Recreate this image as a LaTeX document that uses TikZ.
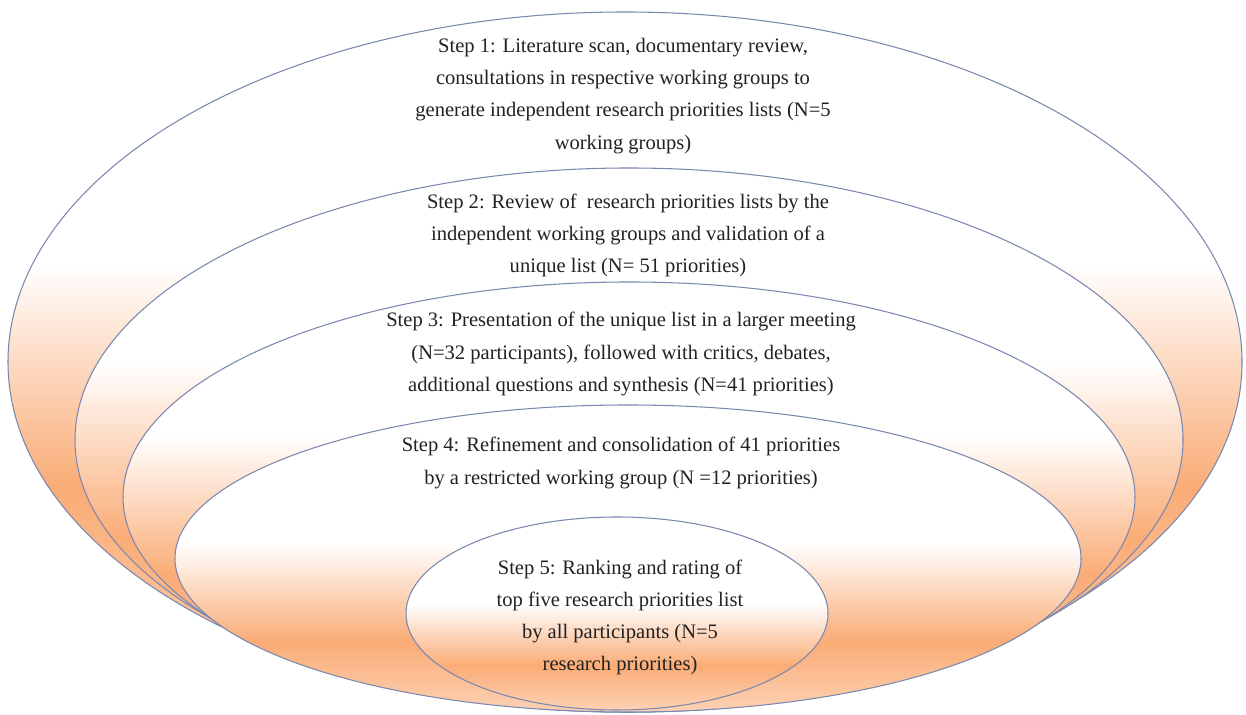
\documentclass[tikz,border=0pt]{standalone}
\usepackage{fontspec}
\setmainfont{Liberation Serif}
\usepackage{tikz}

\definecolor{stepor}{RGB}{250,172,118}
\definecolor{stepline}{RGB}{122,136,176}
\definecolor{steptxt}{RGB}{34,34,34}

% Fills: white on top, orange low down, a paler rim at the bottom.
\pgfdeclareverticalshading{ringbig}{100bp}{color(0bp)=(stepor!55!white); color(25bp)=(stepor!55!white); color(41bp)=(stepor); color(57bp)=(white); color(75bp)=(white); color(100bp)=(white)}
\pgfdeclareverticalshading{ringsmall}{100bp}{color(0bp)=(stepor!55!white); color(25bp)=(stepor!55!white); color(36.5bp)=(stepor); color(52.5bp)=(white); color(75bp)=(white); color(100bp)=(white)}

\tikzset{
	stepring/.style={shade, shading=#1, draw=stepline, line width=0.6pt},
	steptext/.style={align=center, text=steptxt, inner sep=0pt, font=\fontsize{11.7}{18.3}\selectfont}
}

\begin{document}
\begin{tikzpicture}[x=0.02cm, y=0.02cm]
		\useasboundingbox (0,0) rectangle (1246,715);

		% Outer rings, largest first.
		\path[stepring=ringbig] (625,353) ellipse [x radius=617, y radius=350];
		\path[stepring=ringbig] (629,275) ellipse [x radius=554, y radius=272];
		\path[stepring=ringbig] (629,218) ellipse [x radius=506, y radius=215];
		\path[stepring=ringsmall] (628,156.5) ellipse [x radius=453, y radius=153.5];

		% Inner ring.
		\path[stepring=ringsmall] (617,101.5) ellipse [x radius=211, y radius=96.5];

		% Step texts.
		\node[steptext] (stepone) at (623,619)
			{Step 1: Literature scan, documentary review,\\
			consultations in respective working groups to\\
			generate independent research priorities lists (N=5\\
			working groups)};
		\node[steptext] (steptwo) at (628,479.5)
			{Step 2: Review of~ research priorities lists by the\\
			independent working groups and validation of a\\
			unique list (N= 51 priorities)};
		\node[steptext] (stepthree) at (621,361)
			{Step 3: Presentation of the unique list in a larger meeting\\
			(N=32 participants), followed with critics, debates,\\
			additional questions and synthesis (N=41 priorities)};
		\node[steptext] (stepfour) at (621,252)
			{Step 4: Refinement and consolidation of 41 priorities\\
			by a restricted working group (N =12 priorities)};
		\node[steptext] (stepfive) at (620,97.5)
			{Step 5: Ranking and rating of\\
			top five research priorities list\\
			by all participants (N=5\\
			research priorities)};

	\end{tikzpicture}
\end{document}
